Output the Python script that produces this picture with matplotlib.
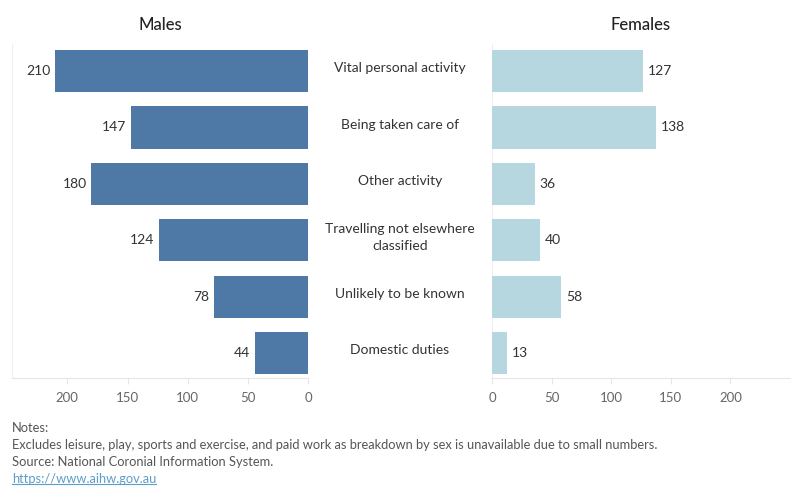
import matplotlib.pyplot as plt
import matplotlib.transforms as mtransforms

categories = ["Vital personal activity", "Being taken care of", "Other activity",
              "Travelling not elsewhere\nclassified", "Unlikely to be known", "Domestic duties"]
males = [210, 147, 180, 124, 78, 44]
females = [127, 138, 36, 40, 58, 13]
ticks = [0, 50, 100, 150, 200]

plt.rcParams['font.family'] = ['Lato', 'DejaVu Sans']

fig = plt.figure(figsize=(8, 5), dpi=100)
axm = fig.add_axes([0.015, 0.244, 0.37, 0.668])
axf = fig.add_axes([0.615, 0.244, 0.3725, 0.668])

y = list(range(len(categories)))
grid_c = '#e6e6e6'
tick_c = '#666666'

axm.barh(y, males, height=0.745, color='#4e79a7')
axf.barh(y, females, height=0.745, color='#b7d7e0')

for ax in (axm, axf):
    ax.set_ylim(5.44, -0.48)
    ax.set_yticks([])
    ax.set_xticks(ticks)
    ax.set_xticklabels([str(t) for t in ticks], color=tick_c, fontsize=9.5)
    ax.tick_params(axis='x', length=4, color=grid_c, pad=6)
    for s in ['top', 'right', 'left']:
        ax.spines[s].set_visible(False)
    ax.spines['bottom'].set_color(grid_c)

axm.set_xlim(246, 0)
axf.set_xlim(0, 250)
axm.axvline(246, color='#f0f0f0', lw=1)
axf.axvline(0, color='#f0f0f0', lw=1.5, zorder=0)

for i, v in enumerate(males):
    axm.text(v + 4, i, str(v), ha='right', va='center', fontsize=10, color='#333333')
for i, v in enumerate(females):
    axf.text(v + 4, i, str(v), ha='left', va='center', fontsize=10, color='#333333')

trans = mtransforms.blended_transform_factory(fig.transFigure, axm.transData)
for i, c in enumerate(categories):
    fig.text(0.5, i - 0.05, c, transform=trans, ha='center', va='center', fontsize=10,
             color='#333333', linespacing=1.5)

axm.set_title("Males", fontsize=12, color='#222222', pad=10, fontweight='medium')
axf.set_title("Females", fontsize=12, color='#222222', pad=10, fontweight='medium')

notes = ["Notes:",
         "Excludes leisure, play, sports and exercise, and paid work as breakdown by sex is unavailable due to small numbers.",
         "Source: National Coronial Information System."]
for k, t in enumerate(notes):
    fig.text(0.015, 1 - (428 + 17 * k) / 500, t, ha='left', va='center', fontsize=9.3, color='#555555')
url = fig.text(0.015, 1 - 479 / 500, "https://www.aihw.gov.au", ha='left', va='center', fontsize=9.3,
               color='#5a9ec9', url="https://www.aihw.gov.au")
fig.canvas.draw()
bb = url.get_window_extent().transformed(fig.transFigure.inverted())
fig.add_artist(plt.Line2D([bb.x0, bb.x1], [bb.y0 + 0.002, bb.y0 + 0.002], color='#5a9ec9', lw=0.8))

fig.savefig("out.png", dpi=100)
